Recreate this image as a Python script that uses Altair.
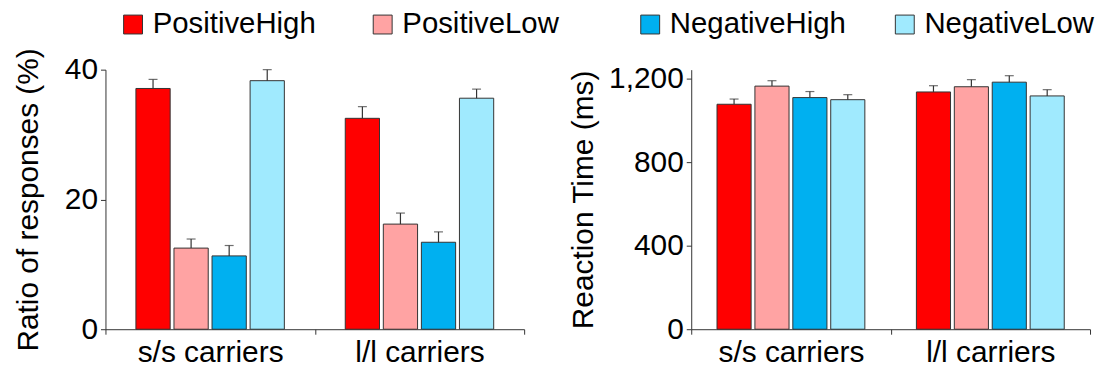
import altair as alt
import pandas as pd

groups = ["s/s carriers", "l/l carriers"]
conditions = ["PositiveHigh", "PositiveLow", "NegativeHigh", "NegativeLow"]
colors = ["#FF0000", "#FFA3A3", "#00B0F0", "#A0EAFE"]

ratio_ss = [37.1, 12.5, 11.3, 38.3]
ratio_ss_err = [1.4, 1.4, 1.6, 1.7]
ratio_ll = [32.5, 16.2, 13.4, 35.6]
ratio_ll_err = [1.8, 1.7, 1.6, 1.4]

rt_ss = [1079, 1166, 1111, 1101]
rt_ss_err = [25, 26, 29, 24]
rt_ll = [1138, 1163, 1185, 1119]
rt_ll_err = [30, 34, 31, 30]

FONT = "Liberation Sans"


def make_df(ss, ss_err, ll, ll_err):
    rows = []
    for g, vals, errs in [(groups[0], ss, ss_err), (groups[1], ll, ll_err)]:
        for c, v, e in zip(conditions, vals, errs):
            rows.append({"group": g, "condition": c, "value": v, "upper": v + e})
    return pd.DataFrame(rows)


df_ratio = make_df(ratio_ss, ratio_ss_err, ratio_ll, ratio_ll_err)
df_rt = make_df(rt_ss, rt_ss_err, rt_ll, rt_ll_err)


def panel(df, ytitle, ydomain, yvalues, yfmt, width, legend_vals, legend_x, col_pad,
          outer_pad, title_pad):
    x = alt.X("group:N", sort=groups,
              scale=alt.Scale(paddingInner=0, paddingOuter=0),
              axis=alt.Axis(title=None, labelAngle=0, tickBand="extent",
                            labelPadding=3))
    xo = alt.XOffset("condition:N", sort=conditions,
                     scale=alt.Scale(paddingInner=0.1, paddingOuter=outer_pad))
    base = alt.Chart(df)
    bars = base.mark_bar(stroke="#333333", strokeWidth=1).encode(
        x=x, xOffset=xo,
        y=alt.Y("value:Q", scale=alt.Scale(domain=ydomain, nice=False, zero=True),
                axis=alt.Axis(title=ytitle, values=yvalues, format=yfmt,
                              titlePadding=title_pad)),
        color=alt.Color("condition:N", sort=conditions,
                        scale=alt.Scale(domain=conditions, range=colors),
                        legend=alt.Legend(values=legend_vals, orient="none",
                                          legendX=legend_x, legendY=-60.5,
                                          direction="horizontal", title=None,
                                          columnPadding=col_pad)),
    )
    err = base.mark_rule(color="#333333", strokeWidth=1.2).encode(
        x=x, xOffset=xo, y="value:Q", y2="upper:Q")
    cap = base.mark_tick(color="#333333", size=9, thickness=1.2).encode(
        x=x, xOffset=xo, y="upper:Q")
    return alt.layer(bars, err, cap).properties(width=width, height=261)


left = panel(df_ratio, "Ratio of responses (%)", [0, 40], [0, 20, 40], "d", 421,
             ["PositiveHigh", "PositiveLow"], 13, 52, 0.8, 21)
right = panel(df_rt, "Reaction Time (ms)", [0, 1245], [0, 400, 800, 1200], ",d", 401,
              ["NegativeHigh", "NegativeLow"], -56, 44, 0.68, 10)

chart = (
    alt.hconcat(left, right, spacing=168, bounds="flush")
    .resolve_scale(color="independent", y="independent", x="independent",
                   xOffset="independent")
    .resolve_legend(color="independent")
    .properties(padding={"left": 5, "top": 0, "right": 0, "bottom": 0})
    .configure_view(stroke=None)
    .configure_axis(labelFont=FONT, titleFont=FONT, labelFontSize=30,
                    titleFontSize=30, titleFontWeight="normal", labelColor="black",
                    titleColor="black", domainColor="#333333", tickColor="#333333",
                    tickSize=5, grid=False, labelPadding=3)
    .configure_legend(labelFont=FONT, labelFontSize=29.5, labelColor="black",
                      symbolType="square", symbolSize=361,
                      symbolStrokeColor="#333333", symbolStrokeWidth=1,
                      labelOffset=5, padding=0, labelLimit=400)
)

chart.save("out.html", embed_options={"renderer": "svg", "actions": False})
